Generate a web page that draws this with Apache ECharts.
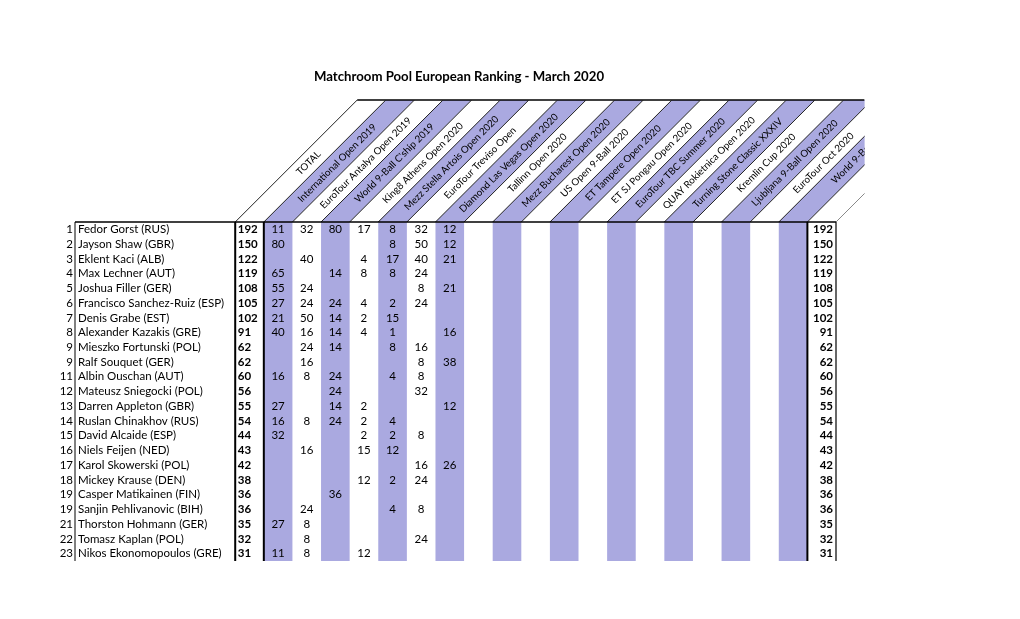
<!DOCTYPE html>
<html>
<head>
<meta charset="utf-8">
<title>Matchroom Pool European Ranking - March 2020</title>
<script src="https://cdn.jsdelivr.net/npm/echarts@6/dist/echarts.min.js"></script>
<style>
  html, body { margin: 0; padding: 0; background: #fff; }
  #chart { width: 1020px; height: 619px; }
</style>
</head>
<body>
<div id="chart"></div>
<script>
const ranks = ['1', '2', '3', '4', '5', '6', '7', '8', '9', '9', '11', '12', '13', '14', '15', '16', '17', '18', '19', '19', '21', '22', '23'];
const players = [
    'Fedor Gorst (RUS)', 'Jayson Shaw (GBR)', 'Eklent Kaci (ALB)', 'Max Lechner (AUT)',
    'Joshua Filler (GER)', 'Francisco Sanchez-Ruiz (ESP)', 'Denis Grabe (EST)',
    'Alexander Kazakis (GRE)', 'Mieszko Fortunski (POL)', 'Ralf Souquet (GER)',
    'Albin Ouschan (AUT)', 'Mateusz Sniegocki (POL)', 'Darren Appleton (GBR)',
    'Ruslan Chinakhov (RUS)', 'David Alcaide (ESP)', 'Niels Feijen (NED)',
    'Karol Skowerski (POL)', 'Mickey Krause (DEN)', 'Casper Matikainen (FIN)',
    'Sanjin Pehlivanovic (BIH)', 'Thorston Hohmann (GER)', 'Tomasz Kaplan (POL)',
    'Nikos Ekonomopoulos (GRE)'
];
const totals = [192, 150, 122, 119, 108, 105, 102, 91, 62, 62, 60, 56, 55, 54, 44, 43, 42, 38, 36, 36, 35, 32, 31];
const events = [
    'International Open 2019', 'EuroTour Antalya Open 2019', "World 9-Ball C'ship 2019",
    'King8 Athens Open 2020', 'Mezz Stella Artois Open 2020', 'EuroTour Treviso Open',
    'Diamond Las Vegas Open 2020', 'Tallinn Open 2020', 'Mezz Bucharest Open 2020',
    'US Open 9-Ball 2020', 'ET Tampere Open 2020', 'ET SJ Pongau Open 2020',
    'EuroTour TBC Summer 2020', 'QUAY Rokietnica Open 2020', 'Turning Stone Classic XXXIV',
    'Kremlin Cup 2020', 'Ljubljana 9-Ball Open 2020', 'EuroTour Oct 2020',
    'World 9-Ball'
];
// points per player for the first seven events, null = no points
const points = [
    [11, 32, 80, 17, 8, 32, 12],
    [80, null, null, null, 8, 50, 12],
    [null, 40, null, 4, 17, 40, 21],
    [65, null, 14, 8, 8, 24, null],
    [55, 24, null, null, null, 8, 21],
    [27, 24, 24, 4, 2, 24, null],
    [21, 50, 14, 2, 15, null, null],
    [40, 16, 14, 4, 1, null, 16],
    [null, 24, 14, null, 8, 16, null],
    [null, 16, null, null, null, 8, 38],
    [16, 8, 24, null, 4, 8, null],
    [null, null, 24, null, null, 32, null],
    [27, null, 14, 2, null, null, 12],
    [16, 8, 24, 2, 4, null, null],
    [32, null, null, 2, 2, 8, null],
    [null, 16, null, 15, 12, null, null],
    [null, null, null, null, null, 16, 26],
    [null, null, null, 12, 2, 24, null],
    [null, null, 36, null, null, null, null],
    [null, 24, null, null, 4, 8, null],
    [27, 8, null, null, null, null, null],
    [null, 8, null, null, null, 24, null],
    [11, 8, null, 12, null, null, null]
];

// layout (x axis is counted in column units)
const TOTAL_X = 5.6;
const EVENT_X = 6.6;
const END_X = EVENT_X + events.length + 1;
const CLIP_X = END_X + 1;
const HEADER_H = 122;
const LABEL_UP = 59;
const PURPLE = '#aaa9e0';
const FONT = 'Lato, "Open Sans", sans-serif';
const FS = 11.5;
const HEADER_FS = 9.8;

const headerCols = [[TOTAL_X, EVENT_X]];
events.forEach((e, k) => headerCols.push([EVENT_X + k, EVENT_X + k + 1]));
headerCols.push([END_X - 1, END_X]);
const headerLabels = ['TOTAL'].concat(events, ['']);
const headerFills = headerLabels.map((l, i) => (i >= 1 && i <= events.length && i % 2 === 1) ? PURPLE : '#fff');

const purpleCols = [];
events.forEach((e, k) => { if (k % 2 === 0) purpleCols.push([EVENT_X + k, EVENT_X + k + 1]); });

const bodyBorders = [0, TOTAL_X, EVENT_X, END_X - 1, END_X];
const bodyBorderWidths = [1, 2, 2, 2, 1.2];
const headerBorders = headerCols.map(c => c[0]).concat([END_X]);

const pointCells = [];
points.forEach((row, i) => row.forEach((v, k) => {
    if (v != null) pointCells.push([EVENT_X + k + 0.5, i, v]);
}));

function textEl(x, y, text, align, bold, size) {
    return {
        type: 'text', x: x, y: y,
        style: {
            text: String(text), align: align, verticalAlign: 'middle',
            fontFamily: FONT, fontSize: size || FS, fontWeight: bold ? 'bold' : 'normal', fill: '#000'
        }
    };
}

const chart = echarts.init(document.getElementById('chart'));
chart.setOption({
    animation: false,
    title: {
        text: 'Matchroom Pool European Ranking - March 2020',
        left: 459, top: 70, textAlign: 'center', padding: 0,
        textStyle: { fontFamily: FONT, fontSize: 13.2, fontWeight: 'bold', color: '#000' }
    },
    grid: { left: 75, top: 222, width: 761, height: 339 },
    xAxis: { type: 'value', min: 0, max: END_X, show: false },
    yAxis: {
        type: 'category', data: ranks, inverse: true,
        axisLine: { show: false }, axisTick: { show: false }, splitLine: { show: false },
        axisLabel: { interval: 0, margin: 2, color: '#000', fontFamily: FONT, fontSize: FS }
    },
    series: [
        {
            name: 'purple columns', type: 'custom', z: 1, data: purpleCols,
            renderItem: function (params, api) {
                const cs = params.coordSys;
                const x0 = api.coord([api.value(0), 0])[0];
                const x1 = api.coord([api.value(1), 0])[0];
                return { type: 'rect', shape: { x: x0, y: cs.y, width: x1 - x0, height: cs.height }, style: { fill: PURPLE } };
            }
        },
        {
            name: 'header', type: 'custom', z: 1, clip: false, data: headerCols,
            renderItem: function (params, api) {
                const cs = params.coordSys;
                const i = params.dataIndex;
                const top = cs.y;
                const x0 = api.coord([api.value(0), 0])[0];
                const x1 = api.coord([api.value(1), 0])[0];
                const right = api.coord([CLIP_X, 0])[0];
                const children = [{
                    type: 'polygon',
                    shape: { points: [[x0, top], [x1, top], [x1 + HEADER_H, top - HEADER_H], [x0 + HEADER_H, top - HEADER_H]] },
                    style: { fill: headerFills[i] }
                }];
                if (headerLabels[i]) {
                    const t = textEl((x0 + x1) / 2 + LABEL_UP, top - LABEL_UP, headerLabels[i], 'center', false, HEADER_FS);
                    t.rotation = Math.PI / 4;
                    children.push(t);
                }
                return { type: 'group', children: children, clipPath: { type: 'rect', shape: { x: 0, y: 0, width: right, height: top } } };
            }
        },
        {
            name: 'header borders', type: 'custom', z: 3, clip: false, data: headerBorders.map(x => [x]),
            renderItem: function (params, api) {
                const cs = params.coordSys;
                const top = cs.y;
                const x = api.coord([api.value(0), 0])[0];
                const right = api.coord([CLIP_X, 0])[0];
                const last = params.dataIndex === headerBorders.length - 1;
                const children = [{
                    type: 'line', shape: { x1: x, y1: top, x2: x + HEADER_H, y2: top - HEADER_H },
                    style: { stroke: last ? '#8a8a8a' : '#222', lineWidth: 1 }
                }];
                if (params.dataIndex === 0) {
                    children.push({
                        type: 'line', shape: { x1: x + HEADER_H, y1: top - HEADER_H, x2: right, y2: top - HEADER_H },
                        style: { stroke: '#000', lineWidth: 1.5 }
                    });
                }
                return { type: 'group', children: children, clipPath: { type: 'rect', shape: { x: 0, y: 0, width: right, height: top + 1 } } };
            }
        },
        {
            name: 'body borders', type: 'custom', z: 3, clip: false, data: bodyBorders.map(x => [x]),
            renderItem: function (params, api) {
                const cs = params.coordSys;
                const x = api.coord([api.value(0), 0])[0];
                const children = [{
                    type: 'line', shape: { x1: x, y1: cs.y, x2: x, y2: cs.y + cs.height },
                    style: { stroke: '#000', lineWidth: bodyBorderWidths[params.dataIndex] }
                }];
                if (params.dataIndex === 0) {
                    children.push({
                        type: 'line', shape: { x1: cs.x, y1: cs.y, x2: cs.x + cs.width, y2: cs.y },
                        style: { stroke: '#000', lineWidth: 1.5 }
                    });
                }
                return { type: 'group', children: children };
            }
        },
        {
            name: 'players', type: 'custom', z: 4, clip: false, data: players.map((p, i) => [0, i]),
            renderItem: function (params, api) {
                const p = api.coord([api.value(0), api.value(1)]);
                return textEl(p[0] + 3, p[1], players[params.dataIndex], 'left', false);
            }
        },
        {
            name: 'total', type: 'custom', z: 4, clip: false, data: totals.map((t, i) => [TOTAL_X, i, t]),
            renderItem: function (params, api) {
                const p = api.coord([api.value(0), api.value(1)]);
                return textEl(p[0] + 2.5, p[1], api.value(2), 'left', true);
            }
        },
        {
            name: 'total right', type: 'custom', z: 4, clip: false, data: totals.map((t, i) => [END_X, i, t]),
            renderItem: function (params, api) {
                const p = api.coord([api.value(0), api.value(1)]);
                return textEl(p[0] - 3, p[1], api.value(2), 'right', true);
            }
        },
        {
            name: 'points', type: 'custom', z: 4, clip: false, data: pointCells,
            renderItem: function (params, api) {
                const p = api.coord([api.value(0), api.value(1)]);
                return textEl(p[0], p[1], api.value(2), 'center', false);
            }
        }
    ]
});
</script>
</body>
</html>
